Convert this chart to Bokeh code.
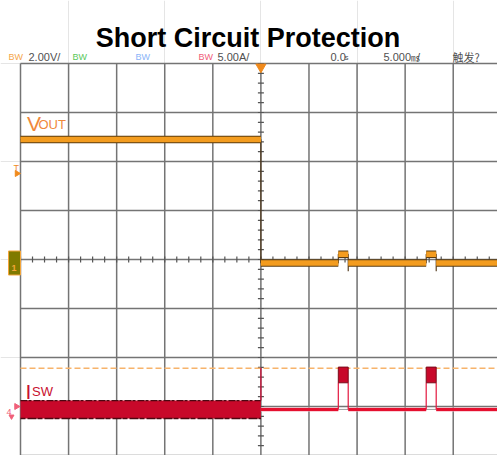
import numpy as np
from bokeh.plotting import figure
from bokeh.models import Range1d, Label
from bokeh.embed import file_html
from bokeh.resources import INLINE

# ---------------- data ----------------
title = "Short Circuit Protection"
time_per_div_ms = 5.0          # 5.000 ms/div
vout_per_div = 2.0             # 2.00 V/div
isw_per_div = 5.0              # 5.00 A/div
isw_ground_div = -3.06         # channel 4 ground position (divisions from centre)
grid_t = [-25, -20, -15, -10, -5, 0, 5, 10, 15, 20, 25]   # ms
grid_div = [-4, -3, -2, -1, 0, 1, 2, 3, 4]

t_start = -25.0
t_short = 0.0
t_end = 25.0
hiccup_on = [8.05, 17.19]      # ms
hiccup_off = [9.08, 18.23]     # ms

vout_before = 4.9              # V
vout_after = -0.14
vout_hiccup = 0.21
vout_dip = -0.48

isw_ripple_hi = 0.9            # A
isw_ripple_lo = -0.92
isw_short_peak = 4.25
isw_after = 0.0
isw_hiccup_hi = 4.32
isw_hiccup_lo = 2.72
isw_limit = 4.2

header_items = [
    ("BW", "#f5a64a", 8, "9px"), ("2.00V/", "#505050", 28, "11px"),
    ("BW", "#5ac85a", 72, "9px"), ("BW", "#8ab4f8", 135, "9px"),
    ("BW", "#f0607a", 198, "9px"), ("5.00A/", "#505050", 217, "11px"),
    ("0.0", "#505050", 330, "11px"), ("s", "#505050", 344, "8px"),
    ("5.000", "#505050", 383, "11px"), ("㎳", "#505050", 410.5, "9px"),
    ("/", "#505050", 416.5, "11px"), ("触发?", "#505050", 452, "11px"),
]

# ------------- page geometry (pixel -> data helpers) -------------
W, H = 497, 455
def X(px):   # canvas px -> ms
    return (px - 260.4) / 9.616 * (time_per_div_ms / 5.0)
def Y(py):   # canvas px -> divisions
    return (259.0 - py) / 49.0

ymin, ymax = Y(H), Y(0)
p = figure(width=W, height=H, output_backend="svg", toolbar_location=None,
           x_axis_location=None, y_axis_location=None, min_border=0,
           x_range=Range1d(X(0), X(W)), y_range=Range1d(ymin, ymax))
p.outline_line_color = None
p.background_fill_color = "white"
p.border_fill_color = "white"
p.extra_y_ranges = {
    "v": Range1d(ymin * vout_per_div, ymax * vout_per_div),
    "i": Range1d((ymin - isw_ground_div) * isw_per_div, (ymax - isw_ground_div) * isw_per_div),
}

# ------------- graticule -------------
GRID = "#747474"
p.segment(x0=grid_t, x1=grid_t, y0=[grid_div[0]] * len(grid_t), y1=[grid_div[-1]] * len(grid_t),
          line_color=GRID, line_width=1.5)
p.segment(x0=[grid_t[0]] * len(grid_div), x1=[grid_t[-1]] * len(grid_div), y0=grid_div, y1=grid_div,
          line_color=GRID, line_width=1.5)
minor_t = np.arange(grid_t[0], grid_t[-1] + 0.01, time_per_div_ms / 4)
minor_d = np.arange(grid_div[0], grid_div[-1] + 0.01, 0.2)
p.scatter(x=minor_t, y=[0] * len(minor_t), marker="dash", angle=np.pi / 2, size=6,
          line_color="#555555", line_width=1.2)
p.scatter(x=[0] * len(minor_d), y=minor_d, marker="dash", size=6,
          line_color="#555555", line_width=1.2)

# ------------- ISW limit (dashed) -------------
p.line(x=[t_start, t_end], y=[isw_limit, isw_limit], y_range_name="i",
       line_color="#f7b36b", line_width=1.6, line_dash="6 3")

# ------------- VOUT trace -------------
vt = [t_start, t_short, t_short]
vv = [vout_before, vout_before, vout_after]
for on, off in zip(hiccup_on, hiccup_off):
    vt += [on, on, off, off, off]
    vv += [vout_after, vout_hiccup, vout_hiccup, vout_dip, vout_after]
vt += [t_end]
vv += [vout_after]
p.line(x=vt, y=vv, y_range_name="v", line_color="#4a3010", line_width=1.1)

seg_t0 = [t_start, t_short]
seg_t1 = [t_short, hiccup_on[0]]
seg_v = [vout_before, vout_after]
for k, (on, off) in enumerate(zip(hiccup_on, hiccup_off)):
    seg_t0 += [on, off]
    seg_t1 += [off, hiccup_on[k + 1] if k + 1 < len(hiccup_on) else t_end]
    seg_v += [vout_hiccup, vout_after]
p.segment(x0=seg_t0, x1=seg_t1, y0=seg_v, y1=seg_v, y_range_name="v",
          line_color="#5b3c10", line_width=7.5)
p.segment(x0=seg_t0, x1=seg_t1, y0=seg_v, y1=seg_v, y_range_name="v",
          line_color="#f39c1f", line_width=5.5)

# ------------- ISW trace -------------
p.varea(x=[t_start, t_short], y1=[isw_ripple_lo] * 2, y2=[isw_ripple_hi] * 2,
        y_range_name="i", fill_color="#c8082a")
p.line(x=[t_start, t_short], y=[isw_ripple_hi] * 2, y_range_name="i",
       line_color="#4a0812", line_width=1.4, line_dash="7 1 3 2")
p.line(x=[t_start, t_short], y=[isw_ripple_lo] * 2, y_range_name="i",
       line_color="#4a0812", line_width=1.4, line_dash="5 2 9 1")
p.segment(x0=[t_short], x1=[t_short], y0=[isw_ripple_hi], y1=[isw_short_peak],
          y_range_name="i", line_color="#d0103a", line_width=1.3)

base_t0 = [t_short] + hiccup_off
base_t1 = hiccup_on + [t_end]
p.segment(x0=hiccup_on, x1=hiccup_off, y0=[isw_after] * 2, y1=[isw_after] * 2,
          y_range_name="i", line_color="#a0a0a0", line_width=1)
p.segment(x0=base_t0, x1=base_t1, y0=[isw_after] * 3, y1=[isw_after] * 3,
          y_range_name="i", line_color="#f7a8b8", line_width=4.5, line_alpha=0.7)
p.segment(x0=base_t0, x1=base_t1, y0=[isw_after] * 3, y1=[isw_after] * 3,
          y_range_name="i", line_color="#e5102f", line_width=3)
p.segment(x0=hiccup_on + hiccup_off, x1=hiccup_on + hiccup_off,
          y0=[isw_after] * 4, y1=[isw_hiccup_lo] * 4,
          y_range_name="i", line_color="#e3173e", line_width=1.2)
p.quad(left=hiccup_on, right=hiccup_off, bottom=[isw_hiccup_lo] * 2, top=[isw_hiccup_hi] * 2,
       y_range_name="i", fill_color="#c8082a", line_color="#7a0a1a", line_width=1)

# ------------- markers -------------
p.scatter(x=[0], y=[Y(66.5)], marker="inverted_triangle", size=10,
          fill_color="#f08a1c", line_color="#f08a1c")
p.rect(x=[X(14)], y=[Y(262.5)], width=12, height=24, width_units="screen",
       height_units="screen", fill_color="#7f7a00", line_color="#f3a53a", line_width=1)
p.scatter(x=[X(16.5)], y=[Y(173)], marker="triangle", angle=-np.pi / 2, size=6,
          fill_color="#f08a1c", line_color="#f08a1c")
p.scatter(x=[X(16)], y=[Y(406)], marker="triangle", angle=-np.pi / 2, size=6,
          fill_color="#f0607a", line_color="#f0607a")
p.scatter(x=[X(11)], y=[Y(416)], marker="inverted_triangle", size=5,
          fill_color="#f0607a", line_color="#f0607a")

def lab(text, px, py, size, color, font="Liberation Sans", style="normal", align="left"):
    p.add_layout(Label(x=X(px), y=Y(py), text=text, text_font=font, text_font_size=size,
                       text_font_style=style, text_color=color, text_align=align,
                       text_baseline="alphabetic"))

lab(title, 247.5, 37, "27px", "black", style="bold", align="center")
for txt, col, px, sz in header_items:
    f = "Noto Sans CJK SC" if txt in ("㎳", "触发?") else "Liberation Sans"
    lab(txt, px, 56.5, sz, col, font=f)

lab("V", 26.5, 123, "21px", "#f0883a")
lab("OUT", 38, 124, "13px", "#f0883a")
lab("I", 25, 391, "21px", "#c8102e")
lab("SW", 31.5, 391, "13px", "#c8102e")
lab("T", 13, 167, "9px", "#f08a1c")
lab("1", 11, 267, "9px", "#f3a53a", style="bold")
lab("4", 6, 411, "9px", "#f0607a")

open("out.html", "w").write(file_html(p, INLINE))
